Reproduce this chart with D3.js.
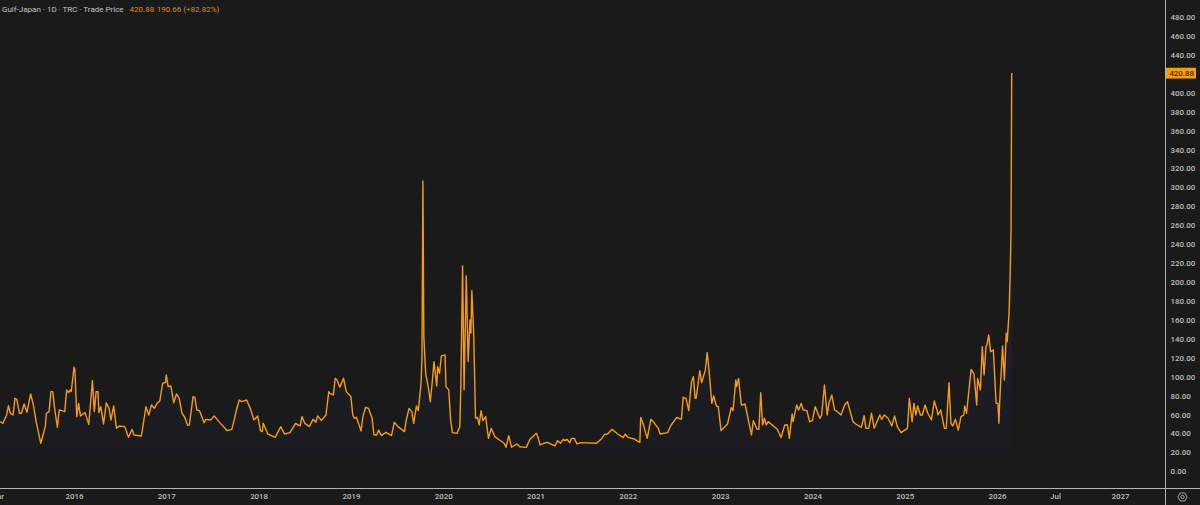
<!DOCTYPE html>
<html>
<head>
<meta charset="utf-8">
<script src="https://cdn.jsdelivr.net/npm/d3@7"></script>
<style>
  html, body { margin: 0; padding: 0; background: #1a1a1a; overflow: hidden; }
  text { font-family: Roboto, "Liberation Sans", Arial, sans-serif; }
  .axis text { fill: #bdbdbd; font-size: 7.9px; font-family: Roboto, sans-serif; font-weight: 500; }
  .axis .tick line { display: none; }
  .axis .domain { stroke: #b4b4b4; stroke-width: 1; }
</style>
</head>
<body>
<div id="chart"></div>
<script>
const width = 1200;
const height = 505;

// decimal years
const times = [
  2015.20,2015.23,2015.27,2015.29,2015.31,2015.34,2015.36,2015.38,2015.41,2015.43,2015.46,2015.49,2015.53,2015.56,2015.59,2015.64,2015.69,2015.70,2015.73,2015.75,
  2015.77,2015.79,2015.82,2015.84,2015.87,2015.90,2015.92,2015.94,2015.96,2015.97,2016.00,2016.01,2016.03,2016.05,2016.07,2016.12,2016.16,2016.20,2016.22,2016.24,
  2016.26,2016.27,2016.29,2016.32,2016.35,2016.38,2016.40,2016.43,2016.46,2016.49,2016.55,2016.59,2016.63,2016.65,2016.73,2016.78,2016.81,2016.84,2016.87,2016.90,
  2016.93,2016.96,2016.99,2017.00,2017.02,2017.05,2017.08,2017.11,2017.14,2017.17,2017.20,2017.23,2017.25,2017.29,2017.31,2017.33,2017.36,2017.41,2017.43,2017.48,
  2017.52,2017.57,2017.66,2017.71,2017.74,2017.76,2017.79,2017.82,2017.87,2017.91,2017.95,2017.99,2018.02,2018.04,2018.05,2018.10,2018.18,2018.24,2018.28,2018.34,
  2018.40,2018.45,2018.47,2018.50,2018.55,2018.59,2018.62,2018.64,2018.68,2018.73,2018.76,2018.77,2018.81,2018.83,2018.85,2018.88,2018.92,2018.95,2019.00,2019.02,
  2019.04,2019.06,2019.11,2019.13,2019.16,2019.19,2019.23,2019.25,2019.28,2019.30,2019.33,2019.38,2019.44,2019.47,2019.51,2019.58,2019.60,2019.63,2019.66,2019.68,
  2019.71,2019.73,2019.76,2019.77,2019.78,2019.79,2019.81,2019.84,2019.86,2019.88,2019.90,2019.93,2019.94,2019.96,2019.98,2020.02,2020.03,2020.06,2020.08,2020.10,
  2020.15,2020.18,2020.19,2020.21,2020.226,2020.25,2020.27,2020.29,2020.30,2020.31,2020.33,2020.35,2020.37,2020.39,2020.41,2020.43,2020.46,2020.49,2020.52,2020.56,
  2020.61,2020.66,2020.68,2020.71,2020.74,2020.80,2020.83,2020.90,2020.94,2020.97,2021.01,2021.03,2021.05,2021.09,2021.13,2021.21,2021.24,2021.27,2021.30,2021.32,
  2021.34,2021.37,2021.39,2021.42,2021.45,2021.49,2021.66,2021.71,2021.75,2021.78,2021.83,2021.89,2021.95,2021.97,2022.00,2022.07,2022.13,2022.14,2022.17,2022.21,
  2022.25,2022.29,2022.33,2022.35,2022.43,2022.47,2022.53,2022.58,2022.60,2022.63,2022.66,2022.69,2022.71,2022.73,2022.74,2022.78,2022.80,2022.84,2022.86,2022.88,
  2022.91,2022.93,2022.96,2022.98,2023.01,2023.08,2023.12,2023.14,2023.17,2023.18,2023.20,2023.23,2023.27,2023.34,2023.36,2023.40,2023.42,2023.44,2023.46,2023.48,
  2023.50,2023.52,2023.62,2023.66,2023.70,2023.73,2023.75,2023.78,2023.79,2023.83,2023.85,2023.88,2023.90,2023.94,2023.97,2024.00,2024.03,2024.08,2024.10,2024.13,
  2024.16,2024.18,2024.21,2024.24,2024.27,2024.31,2024.35,2024.38,2024.44,2024.47,2024.53,2024.56,2024.58,2024.61,2024.64,2024.67,2024.73,2024.75,2024.78,2024.82,
  2024.86,2024.89,2024.92,2024.96,2025.03,2025.05,2025.08,2025.10,2025.12,2025.14,2025.17,2025.19,2025.22,2025.25,2025.29,2025.32,2025.35,2025.36,2025.39,2025.43,
  2025.45,2025.48,2025.50,2025.52,2025.55,2025.58,2025.61,2025.64,2025.65,2025.67,2025.69,2025.72,2025.75,2025.78,2025.79,2025.82,2025.84,2025.86,2025.88,2025.89,
  2025.91,2025.93,2025.96,2025.99,2026.01,2026.02,2026.03,2026.06,2026.08,2026.10,2026.11,2026.13,2026.141,2026.152,2026.159
];
const prices = [
  52.5,50.7,59.5,69.4,61.3,59.5,77.1,76.1,61.3,61.3,71.1,62.3,81.7,70.1,52.5,29.6,47.9,61.3,63.0,84.2,
  84.2,66.5,46.5,64.8,64.1,63.0,85.9,83.1,85.9,84.2,109.9,107.0,57.8,71.8,58.5,62.0,49.6,95.8,63.0,84.2,
  84.2,62.0,68.3,50.0,72.5,66.5,54.2,69.0,45.4,47.9,47.2,35.9,44.3,38.4,37.3,68.3,59.5,70.1,66.5,71.8,
  74.3,93.0,93.7,101.8,89.4,90.1,72.5,81.7,77.1,61.3,57.1,48.6,49.0,78.9,78.2,64.8,64.1,51.4,54.9,54.2,
  58.5,52.5,42.9,44.3,56.0,64.8,75.3,73.6,75.3,66.5,54.2,58.5,42.9,41.9,50.7,39.4,35.9,47.2,39.4,40.8,
  50.7,47.9,57.8,50.7,47.2,54.9,51.8,58.5,53.6,59.5,84.2,82.4,80.7,98.3,96.5,88.8,98.3,84.2,78.9,59.5,
  56.0,57.1,42.6,57.8,67.6,66.5,56.0,38.4,38.4,43.7,37.7,41.2,37.7,51.8,47.2,41.9,54.2,66.5,63.0,50.7,
  69.0,64.1,93.0,121.0,306.8,142.3,103.6,87.7,73.6,93.0,115.9,90.2,110.6,103.6,121.9,123.0,89.5,86.0,54.2,40.9,
  40.2,47.2,86.0,217.0,86.0,206.4,115.9,159.9,145.8,190.9,145.8,56.0,57.1,49.0,64.1,53.6,57.8,34.9,45.4,36.6,
  33.1,29.6,25.4,37.7,25.4,28.9,26.0,25.3,33.8,36.6,40.1,34.8,27.8,29.6,30.6,26.8,32.4,29.6,33.8,32.4,
  33.8,30.3,34.8,34.8,28.9,30.3,29.6,33.8,39.1,39.4,44.4,39.4,35.6,39.4,35.9,34.1,30.6,57.0,48.9,34.8,
  54.9,50.7,45.4,39.4,40.8,48.9,57.0,54.9,78.2,77.1,64.1,94.7,100.0,77.1,77.1,106.3,93.7,107.0,125.4,107.0,
  71.8,79.6,69.0,68.3,43.0,50.0,67.2,64.1,96.5,89.5,98.2,70.1,71.1,38.4,53.5,44.4,44.4,83.1,48.9,56.0,
  48.9,52.5,44.4,35.6,48.9,48.9,34.8,60.6,52.5,70.1,64.8,71.8,64.8,64.1,52.4,53.5,68.3,56.0,59.5,91.2,
  59.5,72.5,80.6,64.8,63.0,59.5,70.1,73.6,52.4,50.0,46.5,58.8,45.4,45.4,61.3,45.4,59.5,54.9,59.5,56.0,
  47.9,58.4,47.2,40.8,45.4,77.1,52.4,71.8,59.5,69.0,59.5,59.5,70.1,61.3,54.2,74.3,64.8,59.5,64.8,45.4,
  45.4,93.7,50.7,47.9,54.9,43.6,57.7,59.5,69.0,61.3,80.6,107.7,102.8,70.1,98.2,85.9,131.7,101.8,131.7,133.5,
  144.0,126.4,128.2,71.8,71.8,50.7,75.3,132.4,96.5,145.8,137.0,167.0,202.0,255.0,420.88
];

// 420.00 sits under the last price tag, so it is left out
const priceTicks = d3.range(0, 481, 20).filter(d => d !== 420);
const timeTicks = [2015.16, 2016, 2017, 2018, 2019, 2020, 2021, 2022, 2023, 2024, 2025, 2026, 2026.5, 2027];
const timeLabels = ["Mar", "2016", "2017", "2018", "2019", "2020", "2021", "2022", "2023", "2024", "2025", "2026", "Jul", "2027"];

const data = times.map((t, i) => ({ t: t, price: prices[i] }));

const svg = d3.select("#chart")
  .append("svg")
  .attr("width", width)
  .attr("height", height)
  .style("display", "block");

svg.append("rect").attr("width", width).attr("height", height).attr("fill", "#1a1a1a");

// the time axis stretches after the last bar
const x = d3.scaleLinear()
  .domain([2016, 2026.159, 2026.5, 2027])
  .range([74, 1011.7, 1055, 1120]);

const y = d3.scaleLinear()
  .domain([0, 480])
  .range([471.3, 17]);

const grad = svg.append("defs").append("linearGradient")
  .attr("id", "under")
  .attr("gradientUnits", "userSpaceOnUse")
  .attr("x1", 0).attr("x2", 0)
  .attr("y1", y(150)).attr("y2", y(0));
grad.append("stop").attr("offset", 0).attr("stop-color", "#1d202d");
grad.append("stop").attr("offset", 1).attr("stop-color", "#1a1a1a");

svg.append("path")
  .datum(data)
  .attr("fill", "url(#under)")
  .attr("d", d3.area().x(d => x(d.t)).y0(y(0)).y1(d => y(d.price)));

svg.append("path")
  .datum(data)
  .attr("fill", "none")
  .attr("stroke", "#f59c17")
  .attr("stroke-width", 1.4)
  .attr("stroke-linejoin", "round")
  .attr("d", d3.line().x(d => x(d.t)).y(d => y(d.price)));

// price axis
const yAxis = svg.append("g")
  .attr("class", "axis")
  .attr("transform", "translate(1165.5,0)")
  .call(d3.axisRight(y).tickValues(priceTicks).tickFormat(d3.format(".2f")).tickSize(0).tickPadding(5));
yAxis.select(".domain").attr("d", "M0,0V505");

// time axis
const xAxis = svg.append("g")
  .attr("class", "axis")
  .attr("transform", "translate(0,488.5)")
  .call(d3.axisBottom(x).tickValues(timeTicks).tickFormat((d, i) => timeLabels[i]).tickSize(0).tickPadding(5));
xAxis.select(".domain").attr("d", "M0,0H1200");

// last price tag
const last = data[data.length - 1];
svg.append("rect")
  .attr("x", 1166).attr("y", y(last.price) - 5.2)
  .attr("width", 30).attr("height", 10.8)
  .attr("fill", "#f59c17");
svg.append("text")
  .attr("x", 1181.7).attr("y", y(last.price) + 3)
  .attr("text-anchor", "middle")
  .attr("font-size", 7.9)
  .attr("font-weight", 500)
  .attr("fill", "#4a2c00")
  .text(d3.format(".2f")(last.price));

// header
const header = svg.append("text").attr("x", 2).attr("y", 12).attr("font-size", 8);
header.append("tspan").attr("fill", "#c4c4c4").text("Gulf-Japan · 1D · TRC · Trade Price");
header.append("tspan").attr("fill", "#d98e1c").attr("dx", 6).text("420.88");
header.append("tspan").attr("fill", "#d98e1c").attr("dx", 2.5).text("190.66 (+82.82%)");

// settings icon
const icon = svg.append("g").attr("transform", "translate(1182.5,497)")
  .attr("fill", "none").attr("stroke", "#b4b4b4").attr("stroke-width", 0.9);
icon.append("path").attr("d", d3.line()(d3.range(6).map(i => [4.6 * Math.cos(i * Math.PI / 3), 4.6 * Math.sin(i * Math.PI / 3)])) + "Z");
icon.append("circle").attr("r", 1.7);
</script>
</body>
</html>
